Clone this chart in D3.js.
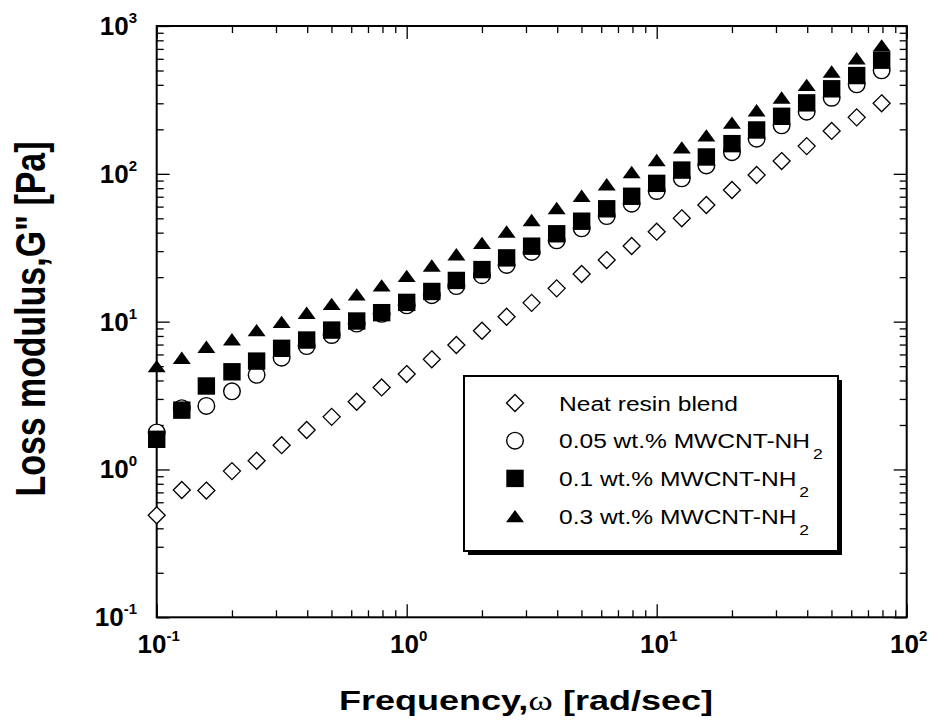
<!DOCTYPE html>
<html>
<head>
<meta charset="utf-8">
<script src="https://cdn.jsdelivr.net/npm/d3@7"></script>
<style>
  html, body { margin: 0; padding: 0; background: #fff; }
  svg { display: block; font-family: "Liberation Sans", Arial, Helvetica, sans-serif; }
</style>
</head>
<body>
<svg id="chart" width="932" height="724"></svg>
<script>
// Angular frequency sweep [rad/s]
const frequency = [0.1, 0.126, 0.158, 0.2, 0.251, 0.316, 0.398, 0.501, 0.631, 0.794,
                   1, 1.26, 1.58, 2, 2.51, 3.16, 3.98, 5.01, 6.31, 7.94,
                   10, 12.6, 15.8, 20, 25.1, 31.6, 39.8, 50.1, 63.1, 79.4];

// Loss modulus G'' [Pa] for each formulation
const neatResin = [0.49, 0.726, 0.72, 0.975, 1.145, 1.46, 1.85, 2.27, 2.87, 3.59,
                   4.42, 5.56, 6.95, 8.68, 10.8, 13.4, 16.8, 21.0, 26.1, 32.5,
                   40.6, 50.0, 61.5, 77.7, 98.2, 122, 154, 195, 241, 300];
const mwcnt005 = [1.78, 2.6, 2.69, 3.38, 4.37, 5.7, 6.84, 8.12, 9.7, 11.3,
                  12.9, 15.1, 17.4, 20.6, 24.2, 29.6, 35.5, 42.8, 51.8, 62.8,
                  76.5, 93.2, 114, 140, 173, 213, 263, 327, 403, 501];
const mwcnt01 = [1.6, 2.52, 3.67, 4.58, 5.41, 6.6, 7.51, 8.77, 10.1, 11.5,
                 13.5, 16.0, 19.0, 22.5, 27.0, 32.4, 39.3, 47.8, 58.0, 70.5,
                 86.2, 106, 130, 160, 198, 245, 302, 376, 462, 587];
const mwcnt03 = [5.0, 5.7, 6.77, 7.6, 8.77, 9.97, 11.5, 13.2, 15.3, 17.6,
                 20.4, 24.0, 28.6, 34.1, 40.7, 48.7, 58.7, 71.0, 85.1, 103,
                 124, 151, 182, 222, 269, 328, 400, 492, 605, 740];

const xTickExponents = ["-1", "0", "1", "2"];
const yTickExponents = ["-1", "0", "1", "2", "3"];

const legendLabels = ["Neat resin blend", "0.05 wt.% MWCNT-NH", "0.1 wt.% MWCNT-NH", "0.3 wt.% MWCNT-NH"];
const legendSubscripts = ["", "2", "2", "2"];
const seriesSymbols = ["diamond", "circle", "square", "triangle"];

const xTitle = "Frequency,";
const xTitleGreek = "\u03C9";
const xTitleUnit = " [rad/sec]";
const yTitle = "Loss modulus,G\" [Pa]";

// ---- layout ----
const plot = { left: 156.7, right: 906.7, top: 26, bottom: 617.3 };

const svg = d3.select("#chart");

const x = d3.scaleLog().domain([0.1, 100]).range([plot.left, plot.right]);
const y = d3.scaleLog().domain([0.1, 1000]).range([plot.bottom, plot.top]);

const isDecade = v => Math.abs(Math.log10(v) - Math.round(Math.log10(v))) < 1e-9;
const xMajor = x.ticks().filter(isDecade);
const xMinor = x.ticks().filter(v => !isDecade(v));
const yMajor = y.ticks().filter(isDecade);
const yMinor = y.ticks().filter(v => !isDecade(v));

const MAJOR = 13, MINOR = 7;

function tickAxis(axisFn, scale, values, size, transform) {
  const g = svg.append("g")
    .attr("transform", transform)
    .call(axisFn(scale).tickValues(values).tickSize(size).tickFormat(""));
  g.select(".domain").remove();
  g.selectAll(".tick line").attr("stroke", "#000").attr("stroke-width", 1.3);
  return g;
}

// inward ticks on all four sides
tickAxis(d3.axisBottom, x, xMajor, -MAJOR, `translate(0,${plot.bottom})`);
tickAxis(d3.axisBottom, x, xMinor, -MINOR, `translate(0,${plot.bottom})`);
tickAxis(d3.axisTop, x, xMajor, -MAJOR, `translate(0,${plot.top})`);
tickAxis(d3.axisTop, x, xMinor, -MINOR, `translate(0,${plot.top})`);
tickAxis(d3.axisLeft, y, yMajor, -MAJOR, `translate(${plot.left},0)`);
tickAxis(d3.axisLeft, y, yMinor, -MINOR, `translate(${plot.left},0)`);
tickAxis(d3.axisRight, y, yMajor, -MAJOR, `translate(${plot.right},0)`);
tickAxis(d3.axisRight, y, yMinor, -MINOR, `translate(${plot.right},0)`);

// frame
svg.append("rect")
  .attr("x", plot.left).attr("y", plot.top)
  .attr("width", plot.right - plot.left).attr("height", plot.bottom - plot.top)
  .attr("fill", "none").attr("stroke", "#000").attr("stroke-width", 2);

// power-of-ten tick labels
function powerLabel(px, py, exp, anchor) {
  const t = svg.append("text")
    .attr("x", px).attr("y", py)
    .attr("text-anchor", anchor)
    .attr("font-weight", "bold").attr("font-size", 26).attr("fill", "#000");
  t.append("tspan").text("10");
  t.append("tspan").attr("dy", -12).attr("font-size", 15).text(exp);
}
xMajor.forEach((v, i) => powerLabel(x(v) + 2, 653, xTickExponents[i], "middle"));
yMajor.forEach((v, i) => powerLabel(137, y(v) + 9, yTickExponents[i], "end"));

// axis titles
const xt = svg.append("text")
  .attr("x", 526).attr("y", 710)
  .attr("text-anchor", "middle")
  .attr("font-weight", "bold").attr("font-size", 27)
  .attr("textLength", 374).attr("lengthAdjust", "spacingAndGlyphs");
xt.append("tspan").text(xTitle);
xt.append("tspan").attr("font-family", "'Liberation Serif', 'DejaVu Serif', serif").attr("font-weight", "normal").attr("font-size", 28).text(xTitleGreek);
xt.append("tspan").text(xTitleUnit);

svg.append("g")
  .attr("transform", "translate(45,319) scale(1.23,1) rotate(-90)")
  .append("text")
  .attr("x", 0).attr("y", 0)
  .attr("text-anchor", "middle")
  .attr("font-weight", "bold").attr("font-size", 34)
  .attr("textLength", 355).attr("lengthAdjust", "spacingAndGlyphs")
  .text(yTitle);

// ---- marker shapes ----
function drawSymbol(g, kind, cx, cy) {
  if (kind === "diamond") {
    const r = 8.5;
    g.append("path")
      .attr("d", `M${cx},${cy - r}L${cx + r},${cy}L${cx},${cy + r}L${cx - r},${cy}Z`)
      .attr("fill", "#fff").attr("stroke", "#000").attr("stroke-width", 1.3);
  } else if (kind === "circle") {
    g.append("circle").attr("cx", cx).attr("cy", cy).attr("r", 8.3)
      .attr("fill", "#fff").attr("stroke", "#000").attr("stroke-width", 1.4);
  } else if (kind === "square") {
    const h = 8.7;
    g.append("rect").attr("x", cx - h).attr("y", cy - h)
      .attr("width", 2 * h).attr("height", 2 * h).attr("fill", "#000");
  } else if (kind === "triangle") {
    const w = 9, hh = 6.2;
    g.append("path")
      .attr("d", `M${cx},${cy - hh}L${cx + w},${cy + hh}L${cx - w},${cy + hh}Z`)
      .attr("fill", "#000");
  }
}

const series = [neatResin, mwcnt005, mwcnt01, mwcnt03];
series.forEach((vals, si) => {
  const g = svg.append("g").attr("class", "series-" + si);
  frequency.forEach((f, i) => drawSymbol(g, seriesSymbols[si], x(f), y(vals[i])));
});

// ---- legend ----
const lg = { x: 464, y: 376, w: 374, h: 175 };
svg.append("rect").attr("x", lg.x + 4).attr("y", lg.y + 4)
  .attr("width", lg.w).attr("height", lg.h).attr("fill", "#000");
svg.append("rect").attr("x", lg.x).attr("y", lg.y)
  .attr("width", lg.w).attr("height", lg.h)
  .attr("fill", "#fff").attr("stroke", "#000").attr("stroke-width", 2);

const legendG = svg.append("g");
legendLabels.forEach((label, i) => {
  const ry = 403 + i * 37.7;
  drawSymbol(legendG, seriesSymbols[i], 515, ry);
  const t = legendG.append("g")
    .attr("transform", `translate(559,${ry + 7.5}) scale(1.17,1)`)
    .append("text")
    .attr("font-size", 21).attr("fill", "#000");
  t.append("tspan").text(label);
  if (legendSubscripts[i]) {
    t.append("tspan").attr("dx", 2.5).attr("dy", 11).attr("font-size", 15).text(legendSubscripts[i]);
  }
});
</script>
</body>
</html>
